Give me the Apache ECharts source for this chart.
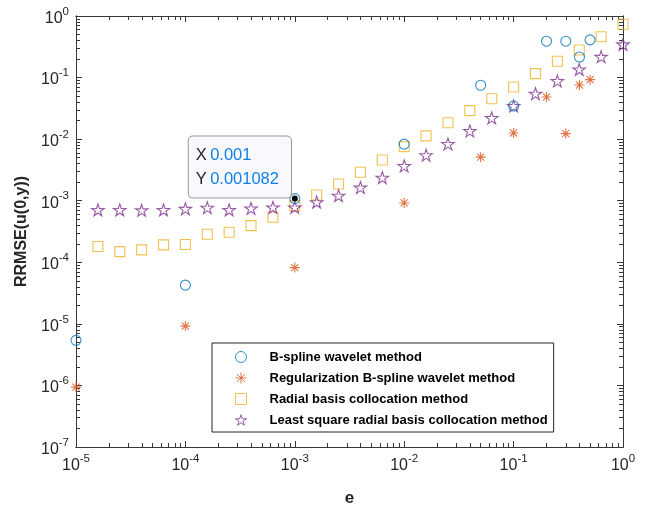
<!DOCTYPE html>
<html>
<head>
<meta charset="utf-8">
<script src="https://cdn.jsdelivr.net/npm/echarts@6/dist/echarts.min.js"></script>
<style>html,body{margin:0;padding:0;background:#fff}#c{width:649px;height:508px}</style>
</head>
<body>
<div id="c"></div>
<script>
// ---- data ----
const seriesNames = [
  'B-spline wavelet method',
  'Regularization B-spline wavelet method',
  'Radial basis collocation method',
  'Least square radial basis collocation method'
];
const xWavelet = [1e-5, 1e-4, 1e-3, 1e-2, 0.05, 0.1, 0.2, 0.3, 0.4, 0.5];
const yBspline = [5.4e-6, 4.25e-5, 1.082e-3, 8.3e-3, 0.075, 0.0346, 0.39, 0.39, 0.216, 0.41];
const yRegular = [9.4e-7, 9.2e-6, 8.2e-5, 9.2e-4, 5.1e-3, 0.0126, 0.0484, 0.0123, 0.0758, 0.0925];
const xRadial = [1.585e-5, 2.512e-5, 3.981e-5, 6.310e-5, 1e-4, 1.585e-4, 2.512e-4, 3.981e-4, 6.310e-4, 1e-3,
  1.585e-3, 2.512e-3, 3.981e-3, 6.310e-3, 1e-2, 1.585e-2, 2.512e-2, 3.981e-2, 6.310e-2, 0.1,
  0.1585, 0.2512, 0.3981, 0.6310, 1];
const yRadial = [1.80e-4, 1.49e-4, 1.59e-4, 1.92e-4, 1.95e-4, 2.86e-4, 3.08e-4, 3.94e-4, 5.40e-4, 8.24e-4,
  1.24e-3, 1.87e-3, 2.90e-3, 4.59e-3, 7.55e-3, 1.13e-2, 1.85e-2, 2.90e-2, 4.54e-2, 7.04e-2,
  0.116, 0.184, 0.281, 0.461, 0.733];
const yLeastSq = [7.1e-4, 7.1e-4, 7.0e-4, 7.1e-4, 7.4e-4, 7.7e-4, 7.1e-4, 7.5e-4, 7.8e-4, 7.8e-4,
  9.5e-4, 1.21e-3, 1.64e-3, 2.37e-3, 3.67e-3, 5.48e-3, 8.36e-3, 1.36e-2, 2.21e-2, 3.46e-2,
  5.48e-2, 8.81e-2, 0.136, 0.218, 0.347];
const datatipX = 0.001, datatipY = 0.001082;

// ---- helpers ----
const FONT = "'Liberation Sans', Arial, Helvetica, sans-serif";
const AX = '#383838';
function pairs(xs, ys) { return xs.map((x, i) => [x, ys[i]]); }
function minorLogs(lo, hi) {
  const out = [];
  for (let d = lo; d < hi; d++) for (let k = 2; k <= 9; k++) out.push(d + Math.log10(k));
  return out;
}
const supRich = {
  b: { fontSize: 16, fontFamily: FONT, color: '#262626', lineHeight: 21, verticalAlign: 'bottom' },
  s: { fontSize: 11.5, fontFamily: FONT, color: '#262626', lineHeight: 21, verticalAlign: 'top' }
};
function fmtPow(v) { const e = Math.round(Math.log10(v)); return '{b|10}{s|' + e + '}'; }

const starPath = 'path://M0,-100L22.45,-30.9L95.1,-30.9L36.3,11.8L58.8,80.9L0,38.2L-58.8,80.9L-36.3,11.8L-95.1,-30.9L-22.45,-30.9Z';
const astPath = 'path://M0,-50L0,50M-50,0L50,0M-35.4,-35.4L35.4,35.4M-35.4,35.4L35.4,-35.4';

const gridRect = { left: 76, top: 16, right: 26, bottom: 61, outerBoundsMode: 'none' };
function majorX(pos, show) {
  return {
    type: 'log', min: 1e-5, max: 1, interval: 1, gridIndex: 0, position: pos,
    axisLine: { show: true, onZero: false, lineStyle: { color: AX, width: 1 } },
    axisTick: { show: true, inside: true, length: 6, lineStyle: { color: AX, width: 1 } },
    axisLabel: { show: show, formatter: fmtPow, rich: supRich, margin: 6 },
    splitLine: { show: false },
    name: show ? 'e' : '', nameLocation: 'middle', nameGap: 43,
    nameTextStyle: { fontFamily: FONT, fontWeight: 'bold', fontSize: 17, color: '#262626' }
  };
}
function majorY(pos, show) {
  return {
    type: 'log', min: 1e-7, max: 1, interval: 1, gridIndex: 0, position: pos,
    axisLine: { show: true, onZero: false, lineStyle: { color: AX, width: 1 } },
    axisTick: { show: true, inside: true, length: 6, lineStyle: { color: AX, width: 1 } },
    axisLabel: { show: show, formatter: fmtPow, rich: supRich, margin: 7 },
    splitLine: { show: false },
    name: show ? 'RRMSE(u(0,y))' : '', nameLocation: 'middle', nameGap: 43, nameRotate: 90,
    nameTextStyle: { fontFamily: FONT, fontWeight: 'bold', fontSize: 16, color: '#262626' }
  };
}
function minorAx(pos, lo, hi) {
  return {
    type: 'value', min: lo, max: hi, gridIndex: 1, position: pos,
    axisLine: { show: true, onZero: false, lineStyle: { color: AX, width: 1 } },
    axisTick: { show: true, inside: true, length: 4, lineStyle: { color: AX, width: 1 }, customValues: minorLogs(lo, hi) },
    axisLabel: { show: false },
    splitLine: { show: false }
  };
}

const chart = echarts.init(document.getElementById('c'), null, { renderer: 'canvas' });
chart.setOption({
  backgroundColor: '#ffffff',
  animation: false,
  textStyle: { fontFamily: FONT },
  grid: [Object.assign({}, gridRect), Object.assign({}, gridRect)],
  xAxis: [majorX('bottom', true), majorX('top', false), minorAx('bottom', -5, 0), minorAx('top', -5, 0)],
  yAxis: [majorY('left', true), majorY('right', false), minorAx('left', -7, 0), minorAx('right', -7, 0)],
  legend: {
    orient: 'vertical', left: 212, top: 343,
    data: seriesNames,
    itemWidth: 11, itemHeight: 11, itemGap: 7,
    padding: [7, 6, 5, 23],
    backgroundColor: '#ffffff', borderColor: '#262626', borderWidth: 1, borderRadius: 0,
    itemStyle: { borderWidth: 1 },
    textStyle: { fontFamily: FONT, fontWeight: 'bold', fontSize: 13, color: '#000', lineHeight: 14, padding: [0, 0, 0, 18] }
  },
  series: [
    {
      name: seriesNames[0], type: 'scatter', xAxisIndex: 0, yAxisIndex: 0,
      data: pairs(xWavelet, yBspline), symbol: 'circle', symbolSize: 10,
      itemStyle: { color: 'transparent', borderColor: '#0072BD', borderWidth: 1.1 },
      z: 3,
      markPoint: {
        symbol: 'circle', symbolSize: 6, z: 10,
        itemStyle: { color: '#000', borderColor: '#fff', borderWidth: 0 },
        data: [{
          coord: [datatipX, datatipY],
          label: {
            show: true, position: [0, 0], align: 'left', verticalAlign: 'bottom', offset: [-103, 2],
            formatter: '{k|X} {v|' + datatipX + '}\n{k|Y} {v|' + datatipY + '}',
            backgroundColor: '#f9f9fd', borderColor: '#9a9a9a', borderWidth: 1, borderRadius: 4,
            padding: [7, 12, 6, 7],
            rich: {
              k: { fontFamily: FONT, fontSize: 16.5, color: '#262626', lineHeight: 24 },
              v: { fontFamily: FONT, fontSize: 16.5, color: '#0f80e8', lineHeight: 24 }
            }
          }
        }]
      }
    },
    {
      name: seriesNames[1], type: 'scatter', xAxisIndex: 0, yAxisIndex: 0,
      data: pairs(xWavelet, yRegular), symbol: astPath, symbolSize: 10, symbolKeepAspect: true,
      itemStyle: { color: 'transparent', borderColor: '#D95319', borderWidth: 1.1 }, z: 2
    },
    {
      name: seriesNames[2], type: 'scatter', xAxisIndex: 0, yAxisIndex: 0,
      data: pairs(xRadial, yRadial), symbol: 'rect', symbolSize: 10,
      itemStyle: { color: 'transparent', borderColor: '#EDB120', borderWidth: 1.1 }, z: 2
    },
    {
      name: seriesNames[3], type: 'scatter', xAxisIndex: 0, yAxisIndex: 0,
      data: pairs(xRadial, yLeastSq), symbol: starPath, symbolSize: 12.5, symbolKeepAspect: true,
      itemStyle: { color: 'transparent', borderColor: '#7E2F8E', borderWidth: 1.1 }, z: 2
    }
  ]
});
</script>
</body>
</html>
